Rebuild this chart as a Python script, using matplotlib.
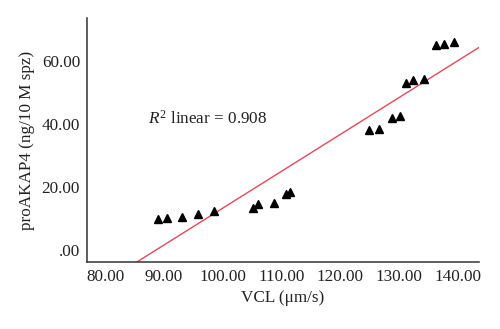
import numpy as np
import matplotlib
matplotlib.use("Agg")
import matplotlib.pyplot as plt

# VCL (um/s) vs proAKAP4 (ng/10 M spz)
vcl = [88.9, 90.5, 93.1, 95.8, 98.5, 105.1, 106.0, 108.8, 110.7, 111.5,
       124.8, 126.5, 128.8, 130.2, 131.2, 132.3, 134.3, 136.2, 137.6, 139.4]
akap4 = [9.7, 10.1, 10.4, 11.4, 12.3, 13.3, 14.6, 15.0, 17.7, 18.3,
         38.1, 38.4, 42.0, 42.5, 53.0, 53.8, 54.4, 65.2, 65.5, 66.0]
x_ticks = [80, 90, 100, 110, 120, 130, 140]
y_ticks = [0, 20, 40, 60]
r2_text = "0.908"

plt.rcParams["font.family"] = ["Liberation Serif", "DejaVu Serif"]
plt.rcParams["mathtext.fontset"] = "custom"
plt.rcParams["mathtext.rm"] = "Liberation Serif"
plt.rcParams["mathtext.it"] = "Liberation Serif:italic"

fig = plt.figure(figsize=(5.0, 3.29), dpi=100)
ax = fig.add_axes([0.174, 0.204, 0.784, 0.741])

ax.plot(vcl, akap4, linestyle="none", marker="^", color="black",
        markersize=5.5, zorder=3)

# least-squares fit line, clipped by the axes
slope, intercept = np.polyfit(vcl, akap4, 1)
xl = np.array([70, 150])
ax.plot(xl, slope * xl + intercept, color="#e5485c", lw=1.0, zorder=2)

ax.set_xlim(76.9, 143.6)
ax.set_ylim(-3.8, 73.6)
ax.set_xticks(x_ticks)
ax.set_xticklabels([f"{v:.2f}" for v in x_ticks])
ax.set_yticks(y_ticks)
ax.set_yticklabels([f"{v:.2f}" if v else ".00" for v in y_ticks])
ax.tick_params(length=0, labelsize=12.3, colors="#222222", pad=5)

for s in ("top", "right"):
    ax.spines[s].set_visible(False)
for s in ("left", "bottom"):
    ax.spines[s].set_color("#333333")
    ax.spines[s].set_linewidth(1.1)

ax.text(87.3, 41.6, f"$R^2$ linear = {r2_text}", fontsize=12.3,
        va="center", ha="left", color="#222222")

ax.set_xlabel("VCL (μm/s)", fontsize=12.3, color="#222222", labelpad=4)
ax.set_ylabel("proAKAP4 (ng/10 M spz)", fontsize=12.3, color="#222222",
              labelpad=5)

fig.savefig("out.png", dpi=100)
